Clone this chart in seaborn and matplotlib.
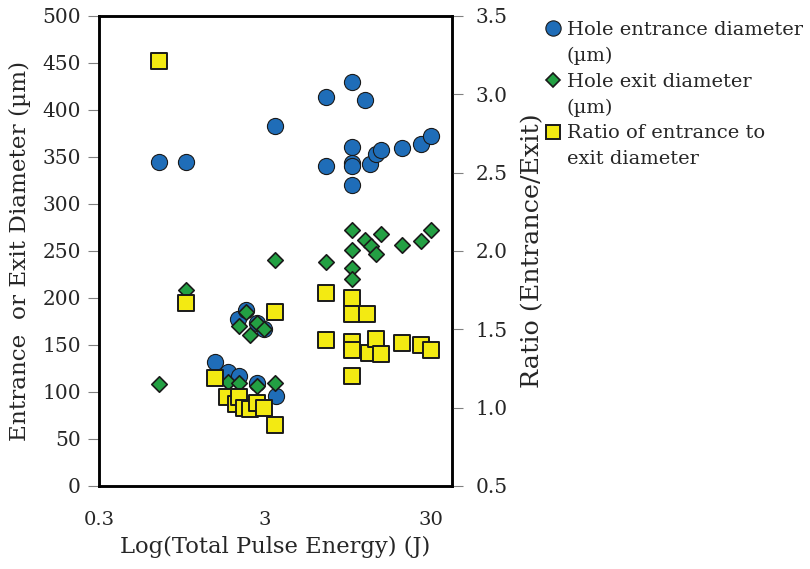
import matplotlib
matplotlib.use('Agg')
import matplotlib.pyplot as plt
import seaborn as sns
import pandas as pd
from matplotlib.lines import Line2D

# Hole entrance diameter (um) vs total pulse energy (J)
entrance_x = [0.69, 1.0, 1.5, 1.8, 2.05, 2.1, 2.3, 2.7, 2.7, 2.95, 3.45, 3.5,
              7, 7, 10, 10, 10, 10, 10, 12, 12.9, 14, 15, 20, 26, 30]
entrance_um = [345, 345, 132, 121, 178, 117, 187, 173, 110, 167, 383, 96,
               414, 340, 430, 361, 344, 340, 320, 411, 343, 353, 357, 360, 364, 372]

# Hole exit diameter (um)
exit_x = [0.69, 1.0, 1.8, 2.1, 2.1, 2.3, 2.45, 2.7, 2.7, 2.95, 3.45, 3.45,
          7, 10, 10, 10, 10, 12, 13, 14, 15, 20, 26, 30]
exit_um = [108, 208, 111, 109, 170, 185, 161, 173, 106, 167, 240, 109,
           238, 272, 251, 232, 220, 262, 255, 247, 268, 256, 261, 272]

# Ratio of entrance to exit diameter
ratio_x = [0.69, 1.0, 1.5, 1.77, 2.0, 2.1, 2.23, 2.45, 2.7, 2.95, 3.45, 3.45,
           7, 7, 10, 10, 10, 10, 10, 12.4, 12.7, 14, 15, 20, 26, 30]
ratio_vals = [3.21, 1.67, 1.19, 1.07, 1.02, 1.07, 1.0, 0.99, 1.03, 1.0, 1.61, 0.89,
              1.73, 1.43, 1.70, 1.60, 1.42, 1.37, 1.20, 1.60, 1.35, 1.44, 1.34, 1.41, 1.40, 1.37]

x_ticks = [0.3, 3, 30]
x_tick_labels = ['0.3', '3', '30']

# legend text, one entry per line (second lines have no marker)
legend_lines = ['Hole entrance diameter', '(\u00b5m)', 'Hole exit diameter', '(\u00b5m)',
                'Ratio of entrance to', 'exit diameter']

blue = '#1f6db8'
green = '#23a043'
yellow = '#f3ea12'
edge = '#1a1a1a'

sns.set_style('white')
plt.rcParams['font.family'] = ['DejaVu Serif']
plt.rcParams['text.color'] = '#262626'
plt.rcParams['axes.labelcolor'] = '#262626'
plt.rcParams['xtick.color'] = '#262626'
plt.rcParams['ytick.color'] = '#262626'

df_ent = pd.DataFrame({'energy': entrance_x, 'value': entrance_um})
df_exit = pd.DataFrame({'energy': exit_x, 'value': exit_um})
df_ratio = pd.DataFrame({'energy': ratio_x, 'value': ratio_vals})

fig = plt.figure(figsize=(8.1, 5.69), dpi=100)
ax = fig.add_axes([0.122, 0.146, 0.436, 0.826])
ax2 = ax.twinx()

sns.scatterplot(data=df_ent, x='energy', y='value', ax=ax, marker='o', s=135,
                color=blue, edgecolor=edge, linewidth=0.8, zorder=2)
sns.scatterplot(data=df_exit, x='energy', y='value', ax=ax, marker='D', s=62,
                color=green, edgecolor=edge, linewidth=1.2, zorder=3)
sns.scatterplot(data=df_ratio, x='energy', y='value', ax=ax2, marker='s', s=145,
                color=yellow, edgecolor=edge, linewidth=1.4, zorder=4)

ax.set_xscale('log')
ax.set_xlim(0.3, 40)
ax.set_ylim(0, 500)
ax2.set_ylim(0.5, 3.5)
ax.set_xticks(x_ticks)
ax.set_xticklabels(x_tick_labels)
ax.set_xticks([], minor=True)
ax.set_yticks(range(0, 501, 50))
ax2.set_yticks([0.5, 1.0, 1.5, 2.0, 2.5, 3.0, 3.5])
ax2.set_yticklabels(['0.5', '1.0', '1.5', '2.0', '2.5', '3.0', '3.5'])

for a in (ax, ax2):
    for sp in a.spines.values():
        sp.set_visible(True)
        sp.set_color('black')
        sp.set_linewidth(1.8)
    a.tick_params(axis='both', which='major', length=8, width=0.8,
                  color='#808080', labelsize=14.5, direction='out')

ax.tick_params(axis='x', pad=10, labelsize=14)
ax.tick_params(axis='y', pad=5)
ax2.tick_params(axis='y', pad=9)

ax.set_xlabel('Log(Total Pulse Energy) (J)', fontsize=16.3, labelpad=5)
ax.set_ylabel('Entrance  or Exit Diameter (\u00b5m)', fontsize=16.7, labelpad=8)
ax2.set_ylabel('Ratio (Entrance/Exit)', fontsize=18.3, labelpad=10)

blank = Line2D([], [], linestyle='none', marker='')
handles = [
    Line2D([], [], linestyle='none', marker='o', markersize=11, markerfacecolor=blue,
           markeredgecolor=edge, markeredgewidth=0.8),
    blank,
    Line2D([], [], linestyle='none', marker='D', markersize=7.5, markerfacecolor=green,
           markeredgecolor=edge, markeredgewidth=1.2),
    blank,
    Line2D([], [], linestyle='none', marker='s', markersize=10, markerfacecolor=yellow,
           markeredgecolor=edge, markeredgewidth=1.4),
    blank,
]
fig.legend(handles, legend_lines, loc='upper left', bbox_to_anchor=(0.659, 0.984),
           frameon=False, fontsize=14, handlelength=0.8, handletextpad=0.3,
           labelspacing=0.40, borderaxespad=0.2)

fig.savefig('out.png', dpi=100)
